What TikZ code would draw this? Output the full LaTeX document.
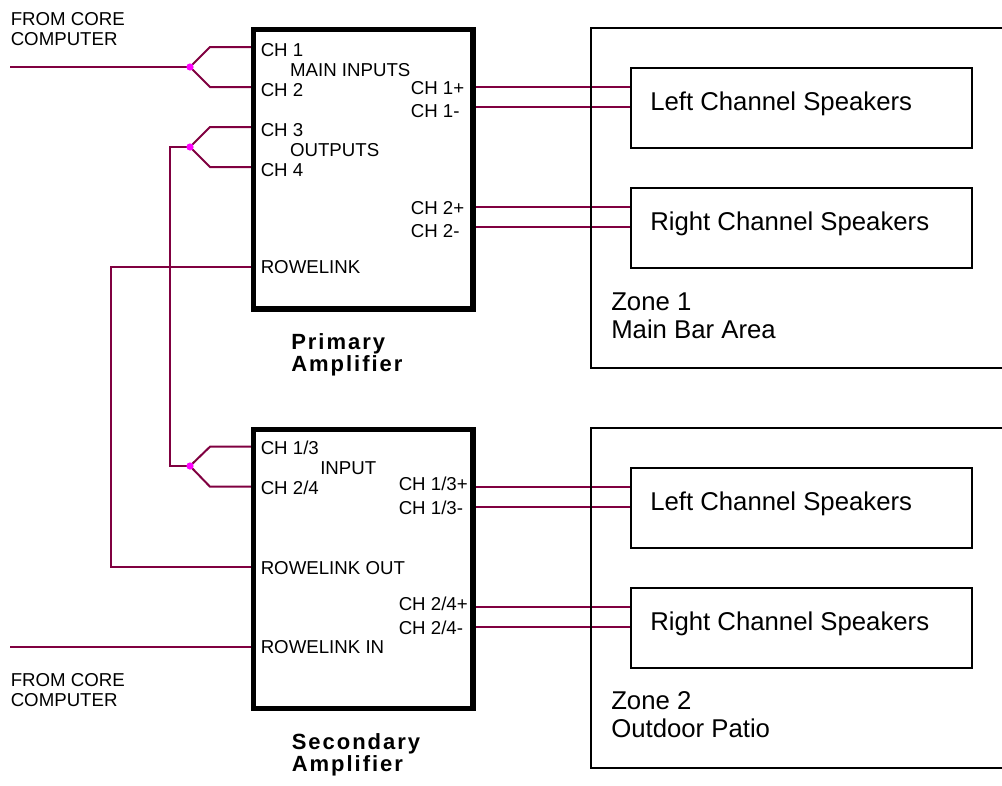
\documentclass[tikz,border=0pt]{standalone}
\usepackage{fontspec}
\setmainfont{Liberation Sans}
\newfontfamily\trackfont[LetterSpace=9]{Liberation Sans}
\usetikzlibrary{backgrounds}
\definecolor{wirec}{RGB}{128,0,64}
\definecolor{dotc}{RGB}{255,0,255}
\newcommand\twolines[2]{\begin{tabular}[t]{@{}l@{}}#1\\#2\end{tabular}}
\begin{document}
\begin{tikzpicture}[x=0.75pt,y=-0.75pt,
  wire/.style={draw=wirec, line width=1.5pt, line join=miter},
  ampbox/.style={draw=black, line width=4pt, rectangle, inner sep=0pt, anchor=north west,
    minimum width=164.6pt, minimum height=209.4pt},
  zonebox/.style={draw=black, line width=1.5pt, rectangle, inner sep=0pt, anchor=north west,
    minimum width=330pt, minimum height=255pt},
  spkbox/.style={draw=black, line width=1.8pt, rectangle, inner sep=0pt, anchor=north west,
    minimum width=255.75pt, minimum height=60pt},
  port/.style={font=\fontsize{14}{15}\selectfont, inner sep=0pt, anchor=base west},
  big/.style={font=\fontsize{19.3}{21}\selectfont, inner sep=0pt, anchor=base west},
  title/.style={font=\fontsize{16.5}{16.3}\trackfont\bfseries, inner sep=0pt, anchor=base west},
  jdot/.style={circle, fill=dotc, inner sep=0pt, minimum size=5.4pt}
]
\clip (0,0) rectangle (1002,785);

% amplifiers
\node[ampbox] (amp1) at (251,27) {};
\node[ampbox] (amp2) at (251,426.5) {};

% zones
\node[zonebox] (zone1) at (590,27) {};
\node[zonebox] (zone2) at (590,427) {};

% speakers
\node[spkbox] (spkL1) at (630,67) {};
\node[spkbox] (spkR1) at (630,187) {};
\node[spkbox] (spkL2) at (630,467) {};
\node[spkbox] (spkR2) at (630,587) {};

\node[big] (tL1) at (650,110) {Left Channel Speakers};
\node[big] (tR1) at (650,230) {Right Channel Speakers};
\node[big] (tL2) at (650,510) {Left Channel Speakers};
\node[big] (tR2) at (650,630) {Right Channel Speakers};

\node[big] (z1t) at (611,310) {\twolines{Zone 1}{Main Bar Area}};
\node[big] (z2t) at (611,709.5) {\twolines{Zone 2}{Outdoor Patio}};

% amplifier titles
\node[title] (amp1t) at (291,349.3) {\twolines{Primary}{Amplifier}};
\node[title] (amp2t) at (291.5,749.5) {\twolines{Secondary}{Amplifier}};

% source labels
\node[port] (src1t) at (10.5,25) {\twolines{FROM CORE}{COMPUTER}};
\node[port] (src2t) at (10.5,686.5) {\twolines{FROM CORE}{COMPUTER}};

% primary port labels
\node[port] (p1) at (260.5,56) {CH 1};
\node[port] (pmi) at (289.8,76) {MAIN INPUTS};
\node[port] (p2) at (260.5,96) {CH 2};
\node[port] (p3) at (260.5,136) {CH 3};
\node[port] (pout) at (289.8,156) {OUTPUTS};
\node[port] (p4) at (260.5,176) {CH 4};
\node[port] (prl) at (260.5,273.3) {ROWELINK};
\node[port] (o1p) at (410.5,94) {CH 1+};
\node[port] (o1m) at (410.5,117.3) {CH 1-};
\node[port] (o2p) at (410.5,214.3) {CH 2+};
\node[port] (o2m) at (410.5,237.3) {CH 2-};

% secondary port labels
\node[port] (s1) at (260.5,454.3) {CH 1/3};
\node[port] (sin) at (320,474) {INPUT};
\node[port] (s2) at (260.5,494) {CH 2/4};
\node[port] (srlo) at (260.5,574) {ROWELINK OUT};
\node[port] (srli) at (260.5,653.3) {ROWELINK IN};
\node[port] (q1p) at (398.5,490.7) {CH 1/3+};
\node[port] (q1m) at (398.5,514) {CH 1/3-};
\node[port] (q2p) at (398.5,610.7) {CH 2/4+};
\node[port] (q2m) at (398.5,634) {CH 2/4-};

% connection points
\coordinate (src1) at (10,67);
\coordinate (src2) at (10,646.7);
\coordinate (bendA) at (170,147);
\coordinate (bendB) at (170,466);
\coordinate (bendC) at (110.7,266.7);

% junction dots
\node[jdot] (j1) at (190,67) {};
\node[jdot] (j2) at (190,147) {};
\node[jdot] (j3) at (190,466) {};

\begin{scope}[on background layer]
  % inputs of primary
  \draw[wire] (src1) -- (j1.center);
  \draw[wire] (j1.center) -- ++(20,-20) -- (amp1.west |- 0,47);
  \draw[wire] (j1.center) -- ++(20,20) -- (amp1.west |- 0,87);
  \draw[wire] (j2.center) -- ++(20,-20) -- (amp1.west |- 0,127);
  \draw[wire] (j2.center) -- ++(20,20) -- (amp1.west |- 0,167);
  % link from outputs to secondary input
  \draw[wire] (j2.center) -- (bendA) -- (bendB) -- (j3.center);
  \draw[wire] (j3.center) -- ++(20,-19.3) -- (amp2.west |- 0,446.7);
  \draw[wire] (j3.center) -- ++(20,20.7) -- (amp2.west |- 0,486.7);
  % rowelink
  \draw[wire] (amp1.west |- 0,266.7) -- (bendC) |- (amp2.west |- 0,566.7);
  \draw[wire] (src2) -- (amp2.west |- src2);
  % outputs
  \draw[wire] (amp1.east |- 0,87) -- (spkL1.west |- 0,87);
  \draw[wire] (amp1.east |- 0,107) -- (spkL1.west |- 0,107);
  \draw[wire] (amp1.east |- 0,207) -- (spkR1.west |- 0,207);
  \draw[wire] (amp1.east |- 0,227) -- (spkR1.west |- 0,227);
  \draw[wire] (amp2.east |- 0,486.7) -- (spkL2.west |- 0,486.7);
  \draw[wire] (amp2.east |- 0,506.7) -- (spkL2.west |- 0,506.7);
  \draw[wire] (amp2.east |- 0,606.7) -- (spkR2.west |- 0,606.7);
  \draw[wire] (amp2.east |- 0,626.7) -- (spkR2.west |- 0,626.7);
\end{scope}
\end{tikzpicture}
\end{document}
